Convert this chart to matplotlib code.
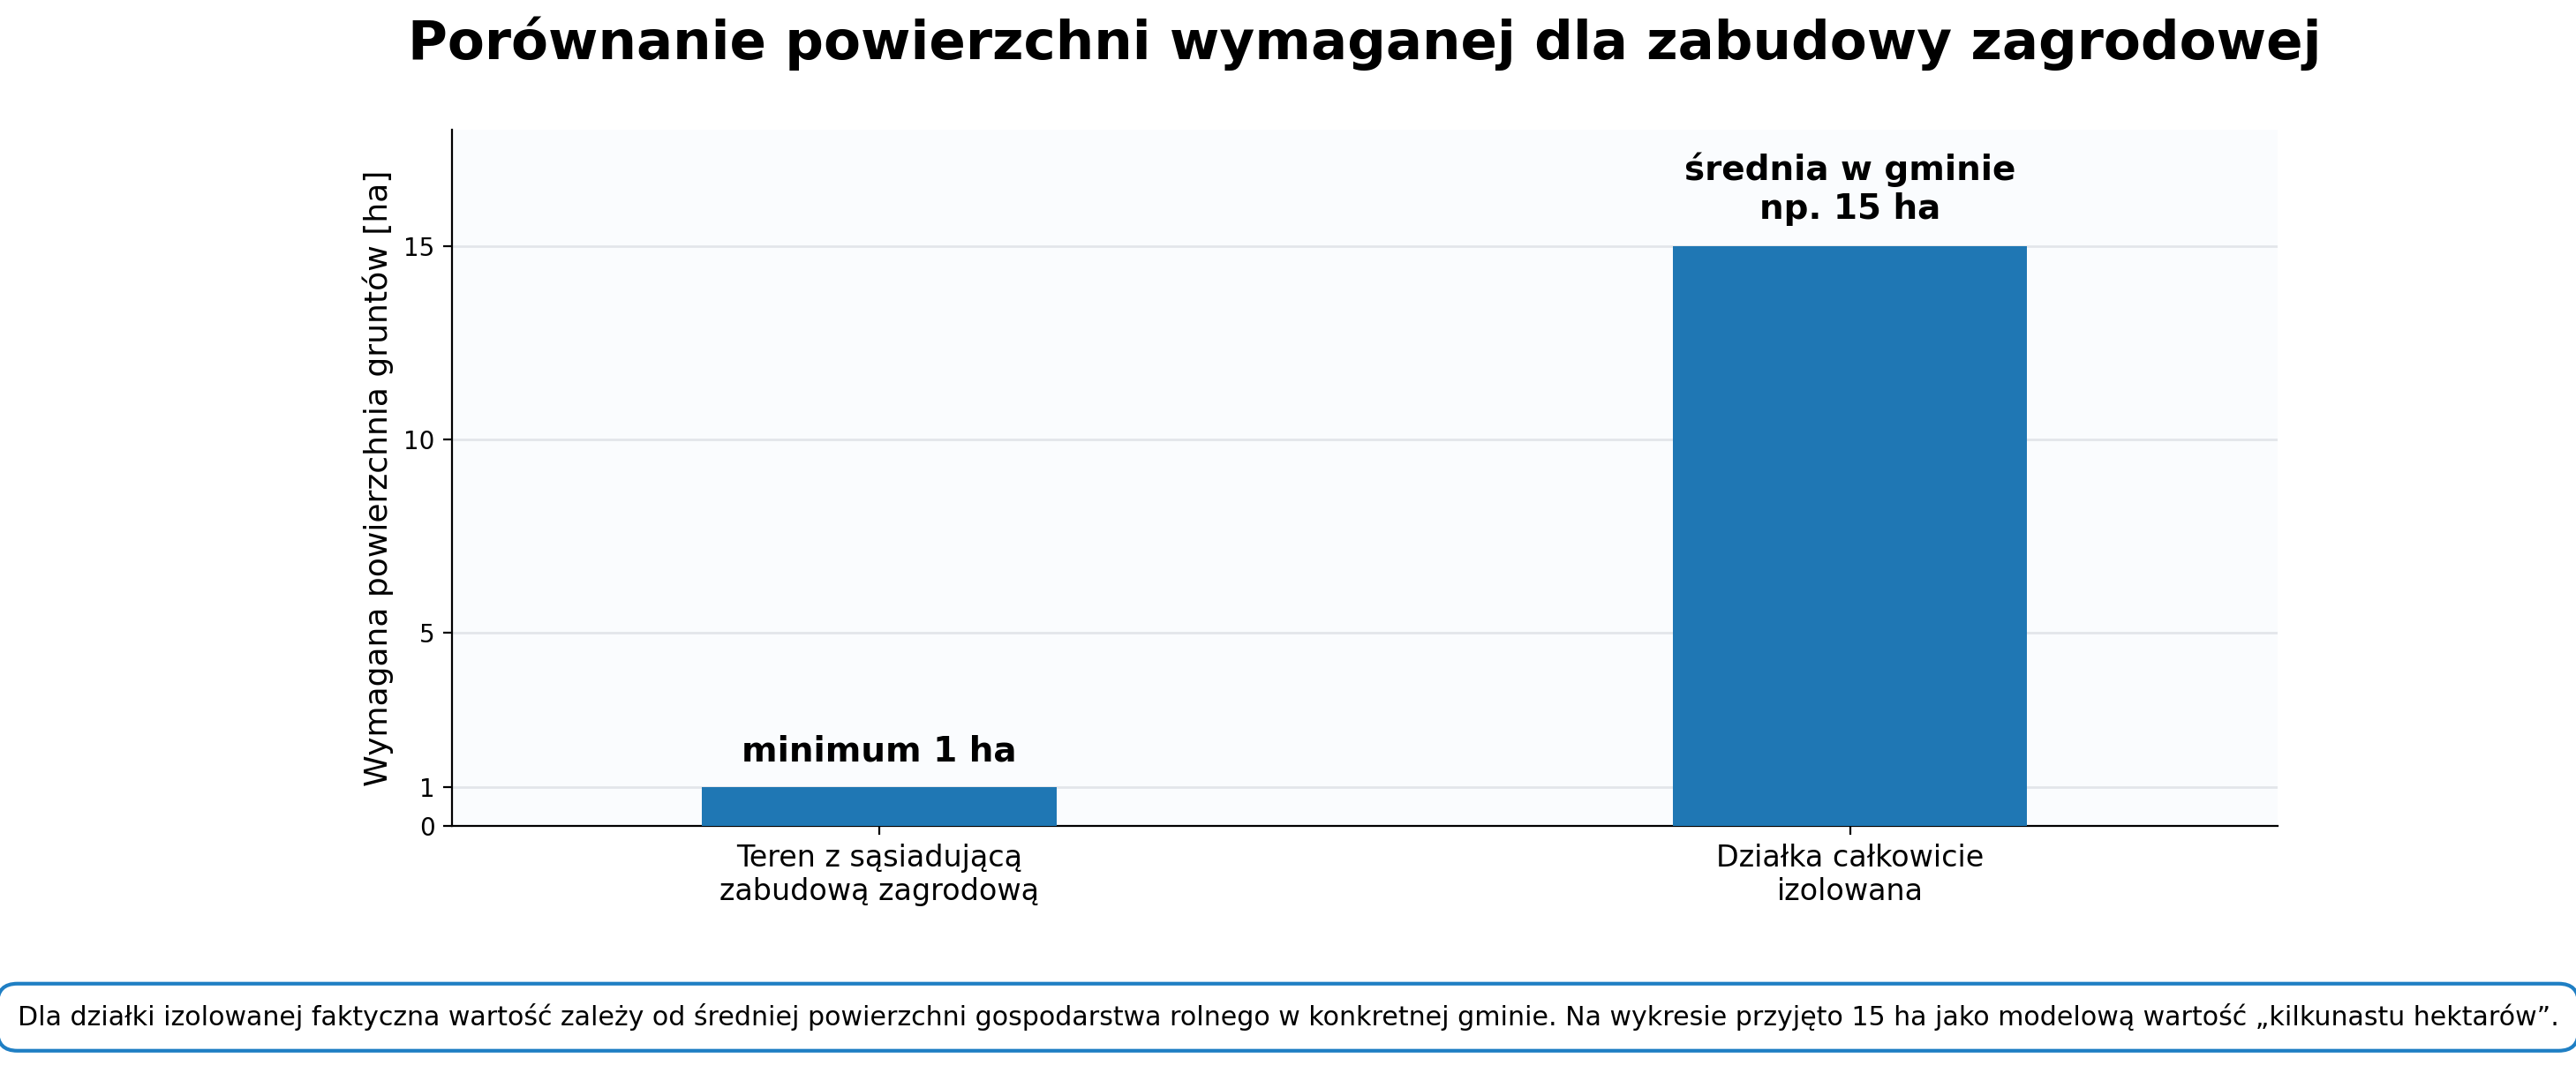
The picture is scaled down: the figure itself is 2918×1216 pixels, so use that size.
import matplotlib
matplotlib.use('Agg')
import matplotlib.pyplot as plt

# data
categories = ['Teren z sąsiadującą\nzabudową zagrodową', 'Działka całkowicie\nizolowana']
values = [1, 15]
bar_labels = ['minimum 1 ha', 'średnia w gminie\nnp. 15 ha']
yticks = [0, 1, 5, 10, 15]
title = 'Porównanie powierzchni wymaganej dla zabudowy zagrodowej'
ylabel = 'Wymagana powierzchnia gruntów [ha]'
note = ('Dla działki izolowanej faktyczna wartość zależy od średniej powierzchni gospodarstwa '
        'rolnego w konkretnej gminie. Na wykresie przyjęto 15 ha jako modelową wartość „kilkunastu hektarów”.')

fig = plt.figure(figsize=(14.59, 6.08), dpi=200)
ax = fig.add_axes([0.1755, 0.230, 0.7085, 0.649])

x = range(len(categories))
bars = ax.bar(x, values, width=0.365, color='#1f77b4', zorder=3)

for b, lab in zip(bars, bar_labels):
    ax.annotate(lab, (b.get_x() + b.get_width() / 2, b.get_height()),
                xytext=(0, 8), textcoords='offset points',
                ha='center', va='bottom', fontsize=14, fontweight='bold')

ax.set_xlim(-0.44, 1.44)
ax.set_ylim(0, 18)
ax.set_xticks(list(x))
ax.set_xticklabels(categories, fontsize=12)
ax.set_yticks(yticks)
ax.tick_params(axis='y', labelsize=10)
ax.set_ylabel(ylabel, fontsize=13)
ax.set_title(title, fontsize=22, fontweight='bold', pad=29)

ax.set_facecolor('#fafcfe')
ax.grid(axis='y', color='#e3e6ea', linewidth=1, zorder=0)
ax.spines['top'].set_visible(False)
ax.spines['right'].set_visible(False)

fig.text(0.5, 0.052, note, ha='center', va='center', fontsize=10.8,
         bbox=dict(boxstyle='round,pad=0.75', facecolor='white', edgecolor='#1f7fc4', linewidth=1.5))

fig.savefig('out.png', dpi=200, facecolor='white')
